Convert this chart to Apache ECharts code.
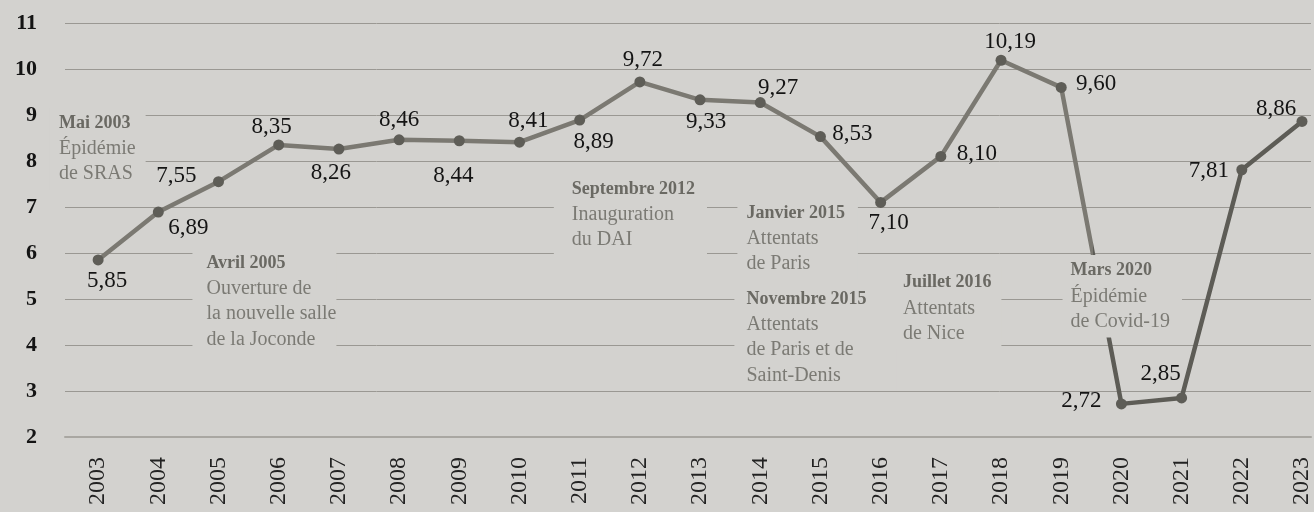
<!DOCTYPE html>
<html>
<head>
<meta charset="utf-8">
<script src="https://cdn.jsdelivr.net/npm/echarts@6/dist/echarts.min.js"></script>
<style>
  html, body { margin: 0; padding: 0; background: #d3d2cf; }
  #chart { width: 1314px; height: 512px; }
</style>
</head>
<body>
<div id="chart"></div>
<script>
// fréquentation annuelle (millions de visiteurs)
const years = [2003, 2004, 2005, 2006, 2007, 2008, 2009, 2010, 2011, 2012, 2013,
  2014, 2015, 2016, 2017, 2018, 2019, 2020, 2021, 2022, 2023]
const visitors = [5.85, 6.89, 7.55, 8.35, 8.26, 8.46, 8.44, 8.41, 8.89, 9.72, 9.33,
  9.27, 8.53, 7.10, 8.10, 10.19, 9.60, 2.72, 2.85, 7.81, 8.86]
const yTicks = [2, 3, 4, 5, 6, 7, 8, 9, 10, 11]

const eventTitles = ['Mai 2003', 'Avril 2005', 'Septembre 2012', 'Janvier 2015',
  'Novembre 2015', 'Juillet 2016', 'Mars 2020']
const eventTexts = [
  ['Épidémie', 'de SRAS'],
  ['Ouverture de', 'la nouvelle salle', 'de la Joconde'],
  ['Inauguration', 'du DAI'],
  ['Attentats', 'de Paris'],
  ['Attentats', 'de Paris et de', 'Saint-Denis'],
  ['Attentats', 'de Nice'],
  ['Épidémie', 'de Covid-19']
]

// placement (coin haut-gauche du texte, en coordonnées du graphique)
const eventAnchors = [
  [2002.35, 9.10], [2004.80, 6.06], [2010.87, 7.67], [2013.77, 7.15],
  [2013.77, 5.28], [2016.37, 5.63], [2019.155, 5.89]
]
// marge du fond masquant [haut, droite, bas, gauche]
const eventPads = [
  [3, 10, 3, 9], [3, 0, 3, 14], [3, 12, 3, 18], [3, 13, 3, 9],
  [3, 30, 3, 12], [3, 10, 3, 10], [3, 12, 3, 8]
]
// décalage des étiquettes par rapport au point (px)
const labelOffsets = [
  [9, 21], [30, 16], [-42, -6], [-7, -18], [-8, 24], [0, -20], [-6, 35],
  [9, -21], [14, 22], [3, -22], [6, 22], [18, -15], [32, -3], [8, 21],
  [36, -2], [9, -18], [35, -3], [-40, -3], [-21, -24], [-33, 1], [-26, -12]
]

const BG = '#d3d2cf'
const SERIF = '"Liberation Serif", "DejaVu Serif", serif'
const splitAt = (2019.5 - years[0]) / (years[years.length - 1] - years[0])

const chart = echarts.init(document.getElementById('chart'))

chart.setOption({
  backgroundColor: BG,
  animation: false,
  grid: { left: 65, right: 0, top: 23, bottom: 75 },
  xAxis: {
    type: 'value',
    min: 2002.45,
    max: 2023.15,
    splitLine: { show: false },
    axisTick: { show: false },
    axisLine: { show: true, lineStyle: { color: '#a9a7a2', width: 2 } },
    axisLabel: {
      customValues: years,
      rotate: 90,
      margin: 20,
      fontFamily: SERIF,
      fontSize: 24,
      color: '#222',
      formatter: v => String(v)
    }
  },
  yAxis: {
    type: 'value',
    min: yTicks[0],
    max: yTicks[yTicks.length - 1],
    interval: 1,
    axisLine: { show: false },
    axisTick: { show: false },
    splitLine: { lineStyle: { color: '#9a9893', width: 1 } },
    axisLabel: {
      margin: 28,
      fontFamily: SERIF,
      fontWeight: 'bold',
      fontSize: 22,
      color: '#141414'
    }
  },
  series: [
    {
      type: 'line',
      symbol: 'circle',
      symbolSize: 11,
      z: 3,
      lineStyle: {
        width: 4.5,
        color: new echarts.graphic.LinearGradient(0, 0, 1, 0, [
          { offset: 0, color: '#7b7972' },
          { offset: splitAt, color: '#7b7972' },
          { offset: splitAt, color: '#5d5c56' },
          { offset: 1, color: '#5d5c56' }
        ])
      },
      itemStyle: { color: '#5e5d57' },
      label: {
        show: true,
        position: 'inside',
        align: 'center',
        verticalAlign: 'middle',
        fontFamily: SERIF,
        fontSize: 23,
        color: '#141414',
        formatter: p => p.value[1].toFixed(2).replace('.', ',')
      },
      data: visitors.map((v, i) => ({
        value: [years[i], v],
        label: { offset: labelOffsets[i] }
      }))
    }
  ]
})

// annotations : fond de la couleur du graphique, qui masque les lignes
chart.setOption({
  graphic: eventTitles.map((t, i) => {
    const p = chart.convertToPixel({ gridIndex: 0 }, eventAnchors[i])
    const pad = eventPads[i]
    return {
      type: 'text',
      x: p[0] - pad[3],
      y: p[1] - pad[0],
      z: 20,
      style: {
        text: '{b|' + t + '}\n' + eventTexts[i].map(l => '{r|' + l + '}').join('\n'),
        backgroundColor: BG,
        padding: pad,
        align: 'left',
        verticalAlign: 'top',
        rich: {
          b: { fontFamily: SERIF, fontWeight: 'bold', fontSize: 18, lineHeight: 25.5, fill: '#6a6963' },
          r: { fontFamily: SERIF, fontSize: 20, lineHeight: 25.5, fill: '#7b7a74' }
        }
      }
    }
  })
})
</script>
</body>
</html>
